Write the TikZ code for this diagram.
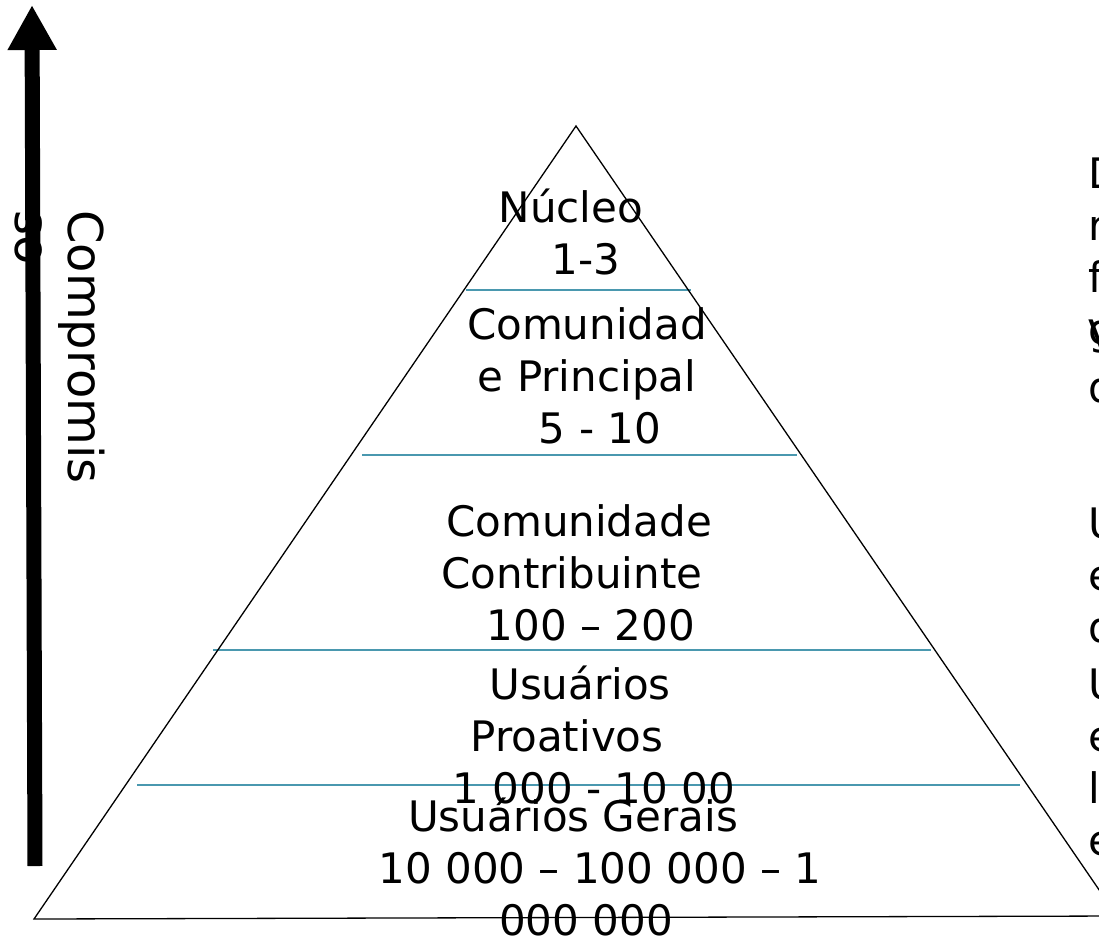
\documentclass[tikz,border=0pt]{standalone}
\usepackage{fontspec}
\setmainfont{DejaVu Sans}
\usetikzlibrary{arrows.meta}
\definecolor{tealline}{RGB}{74,152,175}
\newcommand{\padw}[1]{\rule{#1}{0pt}}
\begin{document}
\begin{tikzpicture}[x=1pt,y=-1pt,
  lbl/.style={font=\fontsize{42}{52}\selectfont, inner sep=0pt, align=center, anchor=base},
  side/.style={font=\fontsize{42}{52}\selectfont, inner sep=0pt, align=left, anchor=base west},
  tier/.style={draw=tealline, line width=1.6pt},
  edge/.style={draw=black, line width=1.3pt}]
\useasboundingbox (0,0) rectangle (1099,943);
\clip (0,0) rectangle (1099,943);
% pyramid corners
\coordinate (apex) at (576,126);
\coordinate (bl) at (34,919);
\coordinate (br) at (1117,916);
% tier line ends
\coordinate (t1l) at (466,290);  \coordinate (t1r) at (691,290);
\coordinate (t2l) at (362,455);  \coordinate (t2r) at (797,455);
\coordinate (t3l) at (213,650);  \coordinate (t3r) at (931,650);
\coordinate (t4l) at (137,785);  \coordinate (t4r) at (1020,785);
\draw[tier] (t1l) -- (t1r);
\draw[tier] (t2l) -- (t2r);
\draw[tier] (t3l) -- (t3r);
\draw[tier] (t4l) -- (t4r);
\draw[edge, line join=miter] (apex) -- (bl) -- (br) -- cycle;
% labels (anchor = baseline of the last line)
\node[lbl] (nucleo) at (579,274) {N\'ucleo\padw{16pt}\\ \padw{14pt}1-3};
\node[lbl] (principal) at (587,443) {Comunidad\\e Principal\\ \padw{26pt}5 - 10};
\node[lbl] (contrib) at (572,640) {\padw{14pt}Comunidade\\Contribuinte\\ \padw{38pt}100 -- 200};
\node[lbl] (proativos) at (580,803) {Usu\'arios\\Proativos\padw{26pt}\\ \padw{28pt}1 000 - 10 00};
\node[lbl] (gerais) at (600,935) {\hspace*{-54pt}Usu\'arios Gerais\\10 000 -- 100 000 -- 1\\ \hspace*{-28pt}000 000};
% side texts (clipped at the right edge)
\node[side] (sideA) at (1088,344) {D\\r\\f\\g};
\node[side] (sideB) at (1088,402) {V\\d};
\node[side] (sideC) at (1088,642) {U\\e\\d};
\node[side] (sideD) at (1088,855) {U\\e\\l\\e};
% commitment axis
\node[font=\fontsize{48}{52}\selectfont, inner sep=0pt, align=left, rotate=-90, anchor=base west] (axislabel) at (16,210) {Compromis\\so};
\coordinate (axisbase) at (35,866);
\coordinate (axistip) at (32,5);
\draw[line width=15pt, -{Triangle[length=45pt,width=46pt]}] (axisbase) -- (axistip);
\end{tikzpicture}
\end{document}
